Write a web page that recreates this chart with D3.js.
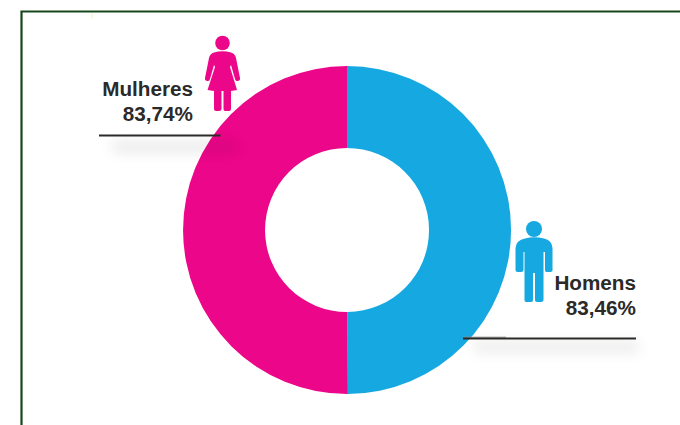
<!DOCTYPE html>
<html>
<head>
<meta charset="utf-8">
<script src="https://cdn.jsdelivr.net/npm/d3@7/dist/d3.min.js"></script>
<style>
  html, body { margin: 0; padding: 0; background: #fff; }
  svg { display: block; }
  text { font-family: "Liberation Sans", Arial, sans-serif; font-weight: 700; fill: #2b2a29; }
</style>
</head>
<body>
<svg id="chart" width="680" height="425"></svg>
<script>
// Share of each group, in percent
const groups = ["Homens", "Mulheres"];
const shares = [83.46, 83.74];
const shareLabels = ["83,46%", "83,74%"];
const sliceColors = ["#16a8e1", "#ec0689"];

const svg = d3.select("#chart");
const cx = 347, cy = 230, outerR = 164, innerR = 82;

const defs = svg.append("defs");
defs.append("filter").attr("id", "soft")
  .attr("x", "-30%").attr("y", "-300%").attr("width", "160%").attr("height", "700%")
  .append("feGaussianBlur").attr("stdDeviation", 7);

// Panel frame: top and left rules only
svg.append("path")
  .attr("d", "M21.5 425V11.5H680")
  .attr("fill", "none").attr("stroke", "#14481c").attr("stroke-width", 2.2);
svg.append("rect").attr("x", 91.5).attr("y", 13).attr("width", 1).attr("height", 6).attr("fill", "#f6f3a8");

// Donut
const pie = d3.pie().sort(null).value(d => d);
const arc = d3.arc().innerRadius(innerR).outerRadius(outerR);
svg.append("g").attr("transform", `translate(${cx},${cy})`)
  .selectAll("path").data(pie(shares)).join("path")
  .attr("d", arc)
  .attr("fill", (d, i) => sliceColors[i]);

// Soft shadows beneath the leader lines
svg.append("rect").attr("x", 112).attr("y", 141).attr("width", 125).attr("height", 11)
  .attr("fill", "#000").attr("opacity", 0.09).attr("filter", "url(#soft)");
svg.append("rect").attr("x", 474).attr("y", 342).attr("width", 165).attr("height", 10)
  .attr("fill", "#000").attr("opacity", 0.09).attr("filter", "url(#soft)");

// Leader lines
svg.append("line").attr("x1", 99).attr("x2", 220.5).attr("y1", 135.5).attr("y2", 135.5)
  .attr("stroke", "#2b2a29").attr("stroke-width", 2);
svg.append("line").attr("x1", 463).attr("x2", 506).attr("y1", 337.2).attr("y2", 337.2)
  .attr("stroke", "#8d8d8d").attr("stroke-width", 1);
svg.append("line").attr("x1", 463).attr("x2", 636).attr("y1", 338.5).attr("y2", 338.5)
  .attr("stroke", "#2b2a29").attr("stroke-width", 2);

// Labels
const labelSpec = [
  { i: 1, x: 193, y1: 96, y2: 121 },
  { i: 0, x: 636, y1: 290, y2: 315 }
];
labelSpec.forEach(l => {
  svg.append("text").attr("x", l.x).attr("y", l.y1).attr("text-anchor", "end")
    .attr("font-size", 20.7).text(groups[l.i]);
  svg.append("text").attr("x", l.x).attr("y", l.y2).attr("text-anchor", "end")
    .attr("font-size", 20.7).text(shareLabels[l.i]);
});

// Pictograms
const woman = svg.append("g").attr("fill", sliceColors[1]);
woman.append("circle").attr("cx", 222.5).attr("cy", 43).attr("r", 7.3);
woman.append("path").attr("d",
  "M214 52.5 Q222.5 50 231 52.5 Q235 53.5 236 58 L240 78 Q240.5 80.5 237.5 81 Q235.5 81.5 235 79 L231 65 L230 67 L237 90 L231 91 L231 109 Q231 111 228 111 L225 111 Q223.5 111 223.5 109 L223.5 91 L221.5 91 L221.5 109 Q221.5 111 219 111 L216 111 Q214 111 214 109 L214 91 L207.5 90 L215 67 L214 65 L210 79 Q209.5 81.5 207.5 81 Q204.5 80.5 205 78 L209 58 Q210 53.5 214 52.5Z");

const man = svg.append("g").attr("fill", sliceColors[0]);
man.append("circle").attr("cx", 534).attr("cy", 229).attr("r", 8);
man.append("path").attr("d",
  "M525 238.5 Q534 236 544 238.5 Q552 240 552.5 248 L552.5 270 Q552.5 272 549.5 272 L546.5 272 Q545 272 545 270 L545 252 L543.5 252 L543.5 300 Q543.5 302 541 302 L537 302 Q535 302 535 300 L535 273 L533 273 L533 300 Q533 302 530 302 L526 302 Q524.5 302 524.5 300 L524.5 252 L523.5 252 L523.5 270 Q523.5 272 521 272 L517.5 272 Q515.5 272 515.5 270 L515.5 248 Q516 240 525 238.5Z");
</script>
</body>
</html>
